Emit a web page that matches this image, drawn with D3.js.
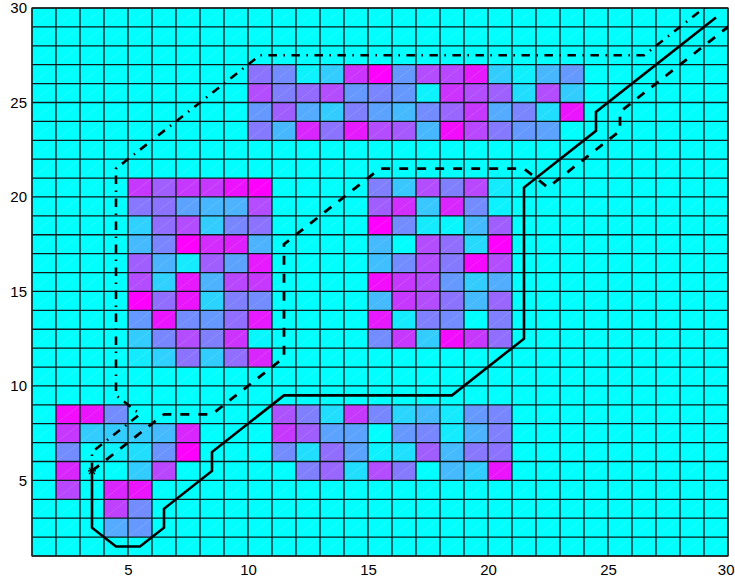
<!DOCTYPE html>
<html>
<head>
<meta charset="utf-8">
<script src="https://cdn.jsdelivr.net/npm/d3@7"></script>
<style>
  html, body { margin: 0; padding: 0; background: #fff; }
  svg { display: block; }
  .tick text { font-family: "Liberation Sans", Arial, Helvetica, sans-serif; font-size: 15px; fill: #000; }
</style>
</head>
<body>
<svg id="chart" width="735" height="582"></svg>
<script>
// Grid extent (cell corners run 1..30 on both axes)
const gridMin = 1, gridMax = 30;
const xTicks = [5, 10, 15, 20, 25, 30];
const yTicks = [5, 10, 15, 20, 25, 30];

// Patches of non-zero cell values; each row lists cells left to right,
// rows listed from top to bottom. x0 = first column, yTop = top row.
const topBlock = { x0: 10, yTop: 26, rows: [
  [0.55, 0.45, 0.05, 0.20, 0.80, 1.00, 0.40, 0.70, 0.72, 0.90, 0.20, 0.06, 0.28, 0.40],
  [0.70, 0.50, 0.58, 0.70, 0.40, 0.48, 0.40, 0.05, 0.80, 0.70, 0.62, 0.13, 0.70, 0.20],
  [0.40, 0.63, 0.33, 0.20, 0.50, 0.36, 0.27, 0.45, 0.60, 0.78, 0.33, 0.48, 0.13, 0.92],
  [0.52, 0.28, 0.85, 0.55, 0.90, 0.70, 0.65, 0.28, 0.95, 0.72, 0.52, 0.40, 0.36, 0.00]
]};
const leftBlock = { x0: 5, yTop: 20, rows: [
  [0.78, 0.63, 0.78, 0.78, 0.93, 1.00],
  [0.53, 0.55, 0.36, 0.28, 0.30, 0.70],
  [0.18, 0.57, 0.70, 0.20, 0.47, 0.55],
  [0.27, 0.48, 1.00, 0.83, 0.88, 0.30],
  [0.63, 0.30, 0.08, 0.63, 0.36, 0.90],
  [0.70, 0.18, 0.90, 0.30, 0.72, 0.78],
  [1.00, 0.57, 0.92, 0.17, 0.50, 0.45],
  [0.40, 0.92, 0.45, 0.40, 0.57, 0.90],
  [0.20, 0.47, 0.70, 0.50, 0.80, 0.03],
  [0.08, 0.18, 0.55, 0.20, 0.57, 0.85]
]};
const midBlock = { x0: 15, yTop: 20, rows: [
  [0.50, 0.22, 0.70, 0.50, 0.72, 0.08],
  [0.63, 0.82, 0.22, 0.85, 0.45, 0.05],
  [1.00, 0.45, 0.08, 0.03, 0.27, 0.63],
  [0.27, 0.00, 0.70, 0.57, 0.15, 1.00],
  [0.25, 0.45, 0.70, 0.52, 0.97, 0.70],
  [0.95, 0.78, 0.70, 0.40, 0.20, 0.32],
  [0.27, 0.78, 0.70, 0.55, 0.27, 0.60],
  [0.90, 0.08, 0.50, 0.45, 0.00, 0.50],
  [0.45, 0.78, 0.20, 0.95, 0.78, 0.57]
]};
const lowBlock = { x0: 11, yTop: 8, rows: [
  [0.68, 0.50, 0.13, 0.78, 0.47, 0.16, 0.27, 0.08, 0.40, 0.47],
  [0.78, 0.63, 0.36, 0.36, 0.00, 0.40, 0.47, 0.08, 0.30, 0.50],
  [0.45, 0.13, 0.57, 0.36, 0.05, 0.12, 0.63, 0.27, 0.53, 0.55],
  [0.00, 0.50, 0.60, 0.13, 0.70, 0.52, 0.00, 0.27, 0.20, 0.92]
]};
const cornerBlock = { x0: 2, yTop: 8, rows: [
  [0.95, 0.92, 0.45, 0.00, 0.00, 0.00],
  [0.78, 0.20, 0.20, 0.20, 0.27, 0.85],
  [0.45, 0.00, 0.05, 0.13, 0.42, 1.00],
  [0.85, 0.00, 0.00, 0.20, 0.72, 0.00],
  [0.72, 0.00, 0.85, 0.92, 0.00, 0.00],
  [0.00, 0.00, 0.75, 0.45, 0.00, 0.00],
  [0.00, 0.00, 0.33, 0.40, 0.00, 0.00]
]};
const blocks = [topBlock, leftBlock, midBlock, lowBlock, cornerBlock];

// Three routes, all leaving the start point marked with a star
const startPoint = [3.5, 5.5];
const solidPath = [[3.5,5.5],[3.5,2.5],[4.5,1.5],[5.5,1.5],[6.5,2.5],[6.5,3.5],[8.5,5.5],[8.5,6.5],
  [11.5,9.5],[18.5,9.5],[21.5,12.5],[21.5,20.5],[24.5,23.5],[24.5,24.5],[29.5,29.5]];
const dashedPath = [[3.5,5.5],[6.5,8.5],[8.5,8.5],[11.5,11.5],[11.5,17.5],[15.5,21.5],[21.5,21.5],
  [22.5,20.5],[25.5,23.5],[25.5,24.5],[30.5,29.5]];
const dashDotPath = [[3.5,5.5],[3.5,6.5],[5.5,8.5],[4.5,9.5],[4.5,21.5],[10.5,27.5],[26.5,27.5],[29.5,30.5]];

// ---- drawing ----
const svg = d3.select("#chart");
const plotLeft = 32, plotRight = 728, plotTop = 8, plotBottom = 556;
const x = d3.scaleLinear().domain([gridMin, gridMax]).range([plotLeft, plotRight]);
const y = d3.scaleLinear().domain([gridMin, gridMax]).range([plotBottom, plotTop]);

// "cool" colormap: cyan (0) -> magenta (1)
const color = t => d3.rgb(Math.round(255 * t), Math.round(255 * (1 - t)), 255).toString();

// Build value matrix (cells 1..29 in each direction), zero elsewhere
const nCells = gridMax - gridMin;
const values = Array.from({ length: nCells }, () => new Array(nCells).fill(0));
blocks.forEach(b => {
  b.rows.forEach((row, r) => {
    const cy = b.yTop - r;
    row.forEach((v, c) => { values[cy - gridMin][b.x0 + c - gridMin] = v; });
  });
});

const cells = [];
for (let j = 0; j < nCells; j++)
  for (let i = 0; i < nCells; i++)
    cells.push({ cx: gridMin + i, cy: gridMin + j, v: values[j][i] });

const gCells = svg.append("g");
gCells.selectAll("rect").data(cells).join("rect")
  .attr("x", d => x(d.cx))
  .attr("y", d => y(d.cy + 1))
  .attr("width", d => x(d.cx + 1) - x(d.cx))
  .attr("height", d => y(d.cy) - y(d.cy + 1))
  .attr("fill", d => color(d.v))
  .attr("shape-rendering", "crispEdges");

// faint cell diagonals from the surface triangulation
svg.append("g").selectAll("line").data(cells).join("line")
  .attr("x1", d => x(d.cx) + 1).attr("y1", d => y(d.cy) - 1)
  .attr("x2", d => x(d.cx + 1) - 1).attr("y2", d => y(d.cy + 1) + 1)
  .attr("stroke", "#fff").attr("stroke-opacity", 0.22).attr("stroke-width", 0.6);

// cell edges
const gridVals = d3.range(gridMin, gridMax + 1);
const gGrid = svg.append("g").attr("stroke", "#0d1a1a").attr("stroke-width", 1.3);
gGrid.selectAll("line.v").data(gridVals).join("line").attr("class", "v")
  .attr("x1", d => x(d)).attr("x2", d => x(d)).attr("y1", plotTop).attr("y2", plotBottom);
gGrid.selectAll("line.h").data(gridVals).join("line").attr("class", "h")
  .attr("y1", d => y(d)).attr("y2", d => y(d)).attr("x1", plotLeft).attr("x2", plotRight);

// axes
const xAxis = d3.axisBottom(x).tickValues(xTicks).tickSize(0).tickPadding(8);
const yAxis = d3.axisLeft(y).tickValues(yTicks).tickSize(0).tickPadding(5);
const gx = svg.append("g").attr("transform", `translate(0,${plotBottom})`).call(xAxis);
const gy = svg.append("g").attr("transform", `translate(${plotLeft},0)`).call(yAxis);
[gx, gy].forEach(g => {
  g.select(".domain").remove();
  g.attr("font-family", null).attr("font-size", null);
});
// keep the last x label inside the page
gx.selectAll(".tick text").filter(d => d === gridMax).attr("text-anchor", "end").attr("dx", 6);

// frame
svg.append("rect").attr("x", plotLeft).attr("y", plotTop)
  .attr("width", plotRight - plotLeft).attr("height", plotBottom - plotTop)
  .attr("fill", "none").attr("stroke", "#222").attr("stroke-width", 1.2);

// routes
svg.append("clipPath").attr("id", "plotClip").append("rect")
  .attr("x", plotLeft).attr("y", plotTop).attr("width", plotRight - plotLeft).attr("height", plotBottom - plotTop);
const line = d3.line().x(d => x(d[0])).y(d => y(d[1]));
const gRoutes = svg.append("g").attr("clip-path", "url(#plotClip)")
  .attr("fill", "none").attr("stroke", "#000").attr("stroke-linejoin", "miter");
gRoutes.append("path").attr("d", line(dashDotPath)).attr("stroke-width", 2.6).attr("stroke-dasharray", "8.5,6.5,1.5,6.5");
gRoutes.append("path").attr("d", line(dashedPath)).attr("stroke-width", 2.8).attr("stroke-dasharray", "9,9");
gRoutes.append("path").attr("d", line(solidPath)).attr("stroke-width", 2.6);

// start marker (asterisk)
const sx = x(startPoint[0]), sy = y(startPoint[1]), r = 4;
svg.append("path")
  .attr("d", `M${sx - r},${sy}L${sx + r},${sy}M${sx},${sy - r}L${sx},${sy + r}` +
             `M${sx - r * 0.75},${sy - r * 0.75}L${sx + r * 0.75},${sy + r * 0.75}` +
             `M${sx - r * 0.75},${sy + r * 0.75}L${sx + r * 0.75},${sy - r * 0.75}`)
  .attr("stroke", "#000").attr("stroke-width", 1.2).attr("fill", "none");
</script>
</body>
</html>
